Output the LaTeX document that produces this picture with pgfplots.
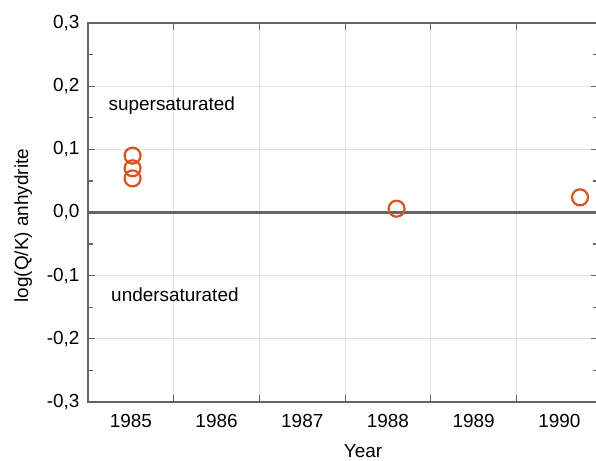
\documentclass[border=0pt]{standalone}
\usepackage{pgfplots}
\pgfplotsset{compat=1.18}
\usepackage{fontspec}
\setmainfont{Liberation Sans}
\usetikzlibrary{calc}
\definecolor{markred}{HTML}{D9531E}
\definecolor{spine}{HTML}{656565}
\definecolor{gridc}{HTML}{E2E2E2}

\begin{document}
\begin{tikzpicture}
\begin{axis}[
    scale only axis,
    width=510bp, height=379bp,
    xmin=1985, xmax=1990.95,
    ymin=-0.3, ymax=0.3,
    xtick={1986,...,1990},
    xticklabels={},
    extra x ticks={1985.5,1986.5,...,1990.5},
    extra x tick labels={1985,1986,1987,1988,1989,1990},
    extra x tick style={major tick length=0pt, grid=none,
        xticklabel style={yshift=-9bp}},
    ytick={-0.3,-0.2,...,0.31},
    minor y tick num=1,
    yticklabel style={xshift=-5bp, /pgf/number format/.cd, fixed, fixed zerofill, precision=1, use comma, assume math mode=true},
    font=\fontsize{19}{22}\selectfont,
    tick label style={font=\fontsize{19}{22}\selectfont},
    xlabel={Year}, ylabel={log(Q/K) anhydrite},
    xlabel style={font=\fontsize{19}{22}\selectfont, yshift=-10bp, xshift=20bp},
    ylabel style={font=\fontsize{19}{22}\selectfont, yshift=8bp, xshift=-13bp},
    axis line style={spine, line width=2.6bp},
    tick style={spine, line width=1.2bp},
    tick align=inside,
    major tick length=7bp, minor tick length=5bp,
    grid=major,
    major grid style={gridc, line width=0.8bp},
    extra y ticks={0},
    extra y tick labels={},
    extra y tick style={grid=major, major grid style={spine, line width=2.6bp}},
    clip=false,
]
\addplot[only marks, mark=o, mark size=8bp, markred, line width=2.2bp]
  table {
  x y
  1985.52 0.090
  1985.52 0.070
  1985.52 0.054
  1988.60 0.006
  1990.74 0.024
  };
\node[anchor=west] at (axis cs:1985.2,0.17) {supersaturated};
\node[anchor=west] at (axis cs:1985.23,-0.13) {undersaturated};
\coordinate (bl) at (rel axis cs:0,0);
\coordinate (tr) at (rel axis cs:1,1);
\end{axis}
\pgfresetboundingbox
\useasboundingbox ($(bl)+(-88bp,-59bp)$) rectangle ($(tr)+(-2bp,23bp)$);
\end{tikzpicture}
\end{document}
